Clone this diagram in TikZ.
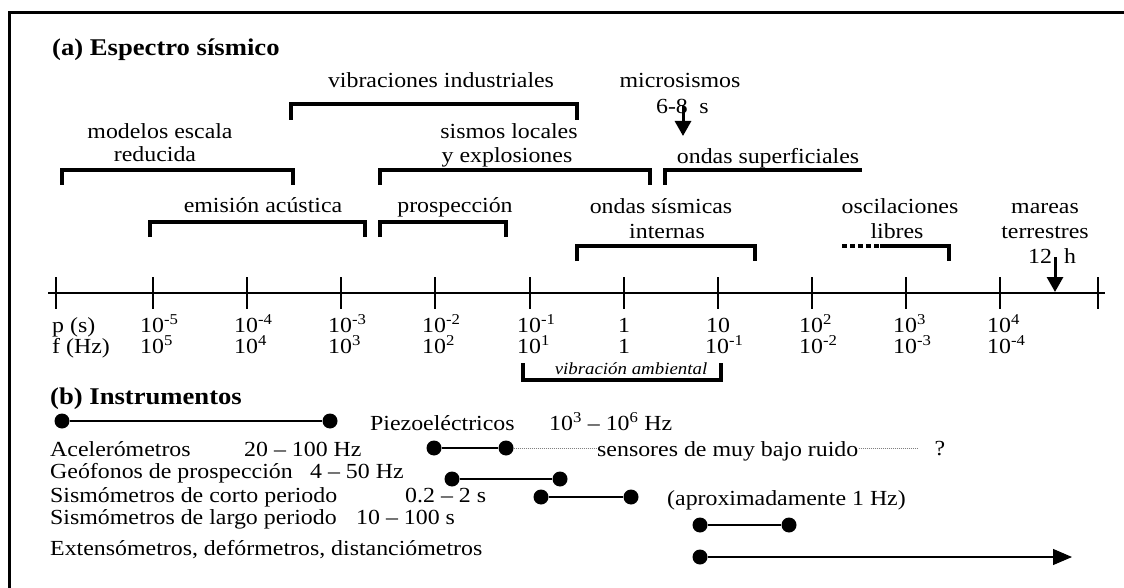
\documentclass[tikz,border=0pt]{standalone}
\usepackage{fontspec}
\setmainfont[FakeStretch=1.11]{Liberation Serif}
\usetikzlibrary{arrows.meta}

\tikzset{
  txt/.style={font=\fontsize{21.5}{25}\selectfont, inner sep=0pt, anchor=base},
  ltxt/.style={txt, anchor=base west},
  head/.style={font=\fontsize{24}{28}\selectfont\bfseries, inner sep=0pt, anchor=base west},
  small/.style={font=\fontsize{17}{20}\selectfont\itshape, inner sep=0pt, anchor=base},
  brk/.style={line width=4.5pt, line join=miter, line cap=butt},
  axisline/.style={line width=2.6pt},
  tickline/.style={line width=2pt},
  dot/.style={circle, fill=black, inner sep=0pt, minimum size=15pt},
  inst/.style={line width=1.2pt},
  faint/.style={line width=0.8pt, gray, dash pattern=on 1pt off 1pt},
  bigarrow/.style={line width=3pt, -{Triangle[length=15pt,width=16pt]}},
}

\begin{document}
\begin{tikzpicture}[x=1pt,y=-1pt]
\useasboundingbox (0,0) rectangle (1124,588);
\fill[white] (0,0) rectangle (1124,588);

% frame
\draw[line width=3pt, line join=miter] (9,588) -- (9,13) -- (1124,13);

% ---------- (a) seismic spectrum ----------
\node[head] (ha) at (52,56) {(a) Espectro sísmico};

\node[txt] (vind) at (441,88) {vibraciones industriales};
\draw[brk] (291,120) -- (291,104) -- (577,104) -- (577,120);

\node[txt] (micro) at (680,88) {microsismos};
\node[txt] (micro68) at (672,114) {6-8};
\node[txt] (micros) at (704,114) {s};
\coordinate (mtop) at (683,106);
\coordinate (mtip) at (683,136);
\draw[bigarrow] (mtop) -- (mtip);

\node[txt] (mod1) at (160,139) {modelos escala};
\node[txt] (mod2) at (155,162) {reducida};
\draw[brk] (62,185) -- (62,170) -- (293,170) -- (293,185);

\node[txt] (sis1) at (509,139) {sismos locales};
\node[txt] (sis2) at (507,163) {y explosiones};
\draw[brk] (380,185) -- (380,170) -- (650,170) -- (650,185);

\node[txt] (osup) at (768,164) {ondas superficiales};
\draw[brk] (665,185) -- (665,170) -- (862,170);

\node[txt] (emi) at (263,213) {emisión acústica};
\draw[brk] (150,237) -- (150,222) -- (365,222) -- (365,237);

\node[txt] (pros) at (455,213) {prospección};
\draw[brk] (380,237) -- (380,222) -- (506,222) -- (506,237);

\node[txt] (osi1) at (661,214) {ondas sísmicas};
\node[txt] (osi2) at (667,238) {internas};
\draw[brk] (577,261) -- (577,246) -- (755,246) -- (755,261);

\node[txt] (osc1) at (900,214) {oscilaciones};
\node[txt] (osc2) at (897,238) {libres};
\draw[brk, dash pattern=on 5pt off 3pt] (842,246) -- (880,246);
\draw[brk] (880,246) -- (949,246) -- (949,261);

\node[txt] (mar1) at (1045,214) {mareas};
\node[txt] (mar2) at (1045,238) {terrestres};
\node[txt] (m12) at (1040,263) {12};
\node[txt] (mh) at (1070,263) {h};
\coordinate (ttop) at (1055,257);
\coordinate (ttip) at (1055,292);
\draw[bigarrow] (ttop) -- (ttip);

% axis with ticks
\coordinate (axL) at (48,293);
\coordinate (axR) at (1105,293);
\draw[axisline] (axL) -- (axR);
\foreach \x in {56,153,247,341,435,530,624,718,812,906,1000,1098}
  \draw[tickline] (\x,277) -- (\x,309);

\node[ltxt] (plab) at (52,332) {p (s)};
\node[ltxt] (flab) at (52,353) {f (Hz)};
\foreach \x/\e in {153/-5,247/-4,341/-3,435/-2,530/-1,812/2,906/3,1000/4}
  \node[ltxt] (p\x) at (\x-13,332) {10\textsuperscript{\e}};
\node[txt] (p624) at (624,332) {1};
\node[txt] (p718) at (718,332) {10};
\foreach \x/\e in {153/5,247/4,341/3,435/2,530/1,718/-1,812/-2,906/-3,1000/-4}
  \node[ltxt] (f\x) at (\x-13,353) {10\textsuperscript{\e}};
\node[txt] (f624) at (624,353) {1};

\node[small] (amb) at (631,374) {vibración ambiental};
\draw[brk, line width=4pt] (523,363) -- (523,380) -- (721,380) -- (721,363);

% ---------- (b) instruments ----------
\node[head] (hb) at (50,404) {(b) Instrumentos};

\node[dot] (d1a) at (62,421) {};
\node[dot] (d1b) at (330,421) {};
\draw[inst] (d1a) -- (d1b);
\node[ltxt] (piezo) at (370,430) {Piezoeléctricos};
\node[ltxt] (piezor) at (549,430) {10\textsuperscript{3} – 10\textsuperscript{6} Hz};

\node[ltxt] (acc) at (50,456) {Acelerómetros};
\node[ltxt] (accr) at (244,456) {20 – 100 Hz};
\node[dot] (d2a) at (434,448) {};
\node[dot] (d2b) at (506,448) {};
\draw[inst] (d2a) -- (d2b);
\node[ltxt] (lown) at (597,456) {sensores de muy bajo ruido};
\coordinate (lowend) at (917,448);
\draw[faint] (d2b) -- (lown.west |- d2b);
\draw[faint] (lown.east |- d2b) -- (lowend);
\node[txt] (q) at (940,455) {?};

\node[ltxt] (geo) at (50,478) {Geófonos de prospección};
\node[ltxt] (geor) at (310,478) {4 – 50 Hz};
\node[dot] (d3a) at (452,479) {};
\node[dot] (d3b) at (560,479) {};
\draw[inst] (d3a) -- (d3b);

\node[ltxt] (sc) at (50,502) {Sismómetros de corto periodo};
\node[ltxt] (scr) at (405,502) {0.2 – 2 s};
\node[dot] (d4a) at (541,497) {};
\node[dot] (d4b) at (631,497) {};
\draw[inst] (d4a) -- (d4b);
\node[ltxt] (aprox) at (667,505) {(aproximadamente 1 Hz)};

\node[ltxt] (sl) at (50,524) {Sismómetros de largo periodo};
\node[ltxt] (slr) at (356,524) {10 – 100 s};
\node[dot] (d5a) at (700,525) {};
\node[dot] (d5b) at (789,525) {};
\draw[inst] (d5a) -- (d5b);

\node[ltxt] (ext) at (50,555) {Extensómetros, defórmetros, distanciómetros};
\node[dot] (d6a) at (700,557) {};
\coordinate (d6end) at (1072,557);
\draw[inst, -{Triangle[length=19pt,width=16pt]}] (d6a) -- (d6end);
\end{tikzpicture}
\end{document}
